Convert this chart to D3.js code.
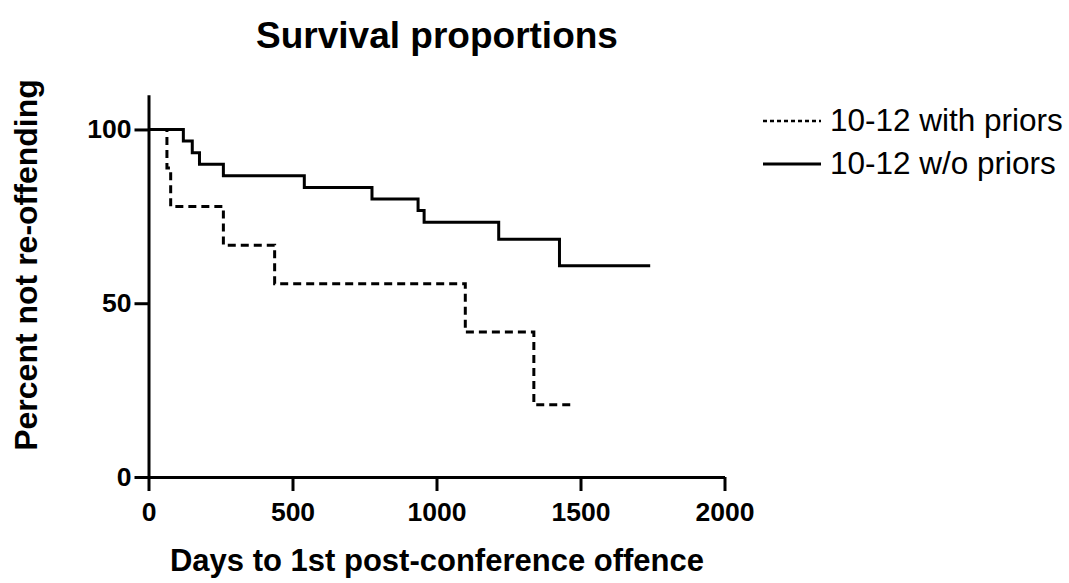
<!DOCTYPE html>
<html>
<head>
<meta charset="utf-8">
<script src="https://cdn.jsdelivr.net/npm/d3@7"></script>
<style>
  body { margin: 0; background: #fff; }
  text { font-family: "Liberation Sans", Arial, sans-serif; fill: #000; }
</style>
</head>
<body>
<div id="chart"></div>
<script>
// Kaplan-Meier steps
const priorsDays = [0, 64, 77, 260, 438, 1100, 1338, 1467]
const priorsSurv = [100, 88.9, 77.8, 66.7, 55.6, 41.7, 20.8, 20.8]

const noPriorsDays = [0, 121, 152, 177, 260, 541, 776, 936, 957, 1216, 1427, 1742]
const noPriorsSurv = [100, 96.7, 93.3, 90, 86.7, 83.3, 80, 76.7, 73.3, 68.4, 60.8, 60.8]

const xTicks = [0, 500, 1000, 1500, 2000]
const yTicks = [0, 50, 100]

const seriesNames = ["10-12 with priors", "10-12 w/o priors"]

const series = [
  { name: seriesNames[0], dash: "8,5", pts: priorsDays.map((d, i) => [d, priorsSurv[i]]) },
  { name: seriesNames[1], dash: null, pts: noPriorsDays.map((d, i) => [d, noPriorsSurv[i]]) }
]

const svg = d3.select('#chart')
  .append('svg')
  .attr('width', 1069)
  .attr('height', 583)

const x = d3.scaleLinear().domain([0, 2000]).range([148.5, 724.5])
const y = d3.scaleLinear().domain([0, 110]).range([477, 94.7])

// axes
const xAxis = svg.append('g')
  .attr('transform', `translate(0,${y(0)})`)
  .call(d3.axisBottom(x).tickValues(xTicks).tickFormat(d3.format('d'))
    .tickSize(14).tickPadding(11).tickSizeOuter(0))
const yAxis = svg.append('g')
  .attr('transform', `translate(${x(0)},0)`)
  .call(d3.axisLeft(y).tickValues(yTicks).tickFormat(d3.format('d'))
    .tickSize(14).tickPadding(3).tickSizeOuter(0))

for (const ax of [xAxis, yAxis]) {
  ax.select('.domain').attr('stroke', '#000').attr('stroke-width', 3)
  ax.selectAll('.tick line').attr('stroke', '#000').attr('stroke-width', 3)
  ax.selectAll('.tick text')
    .style('font-family', '"Liberation Sans", Arial, sans-serif')
    .style('font-size', '26.5px')
    .style('font-weight', 'bold')
    .attr('fill', '#000')
}

// survival curves
const line = d3.line()
  .x(d => x(d[0]))
  .y(d => y(d[1]))
  .curve(d3.curveStepAfter)

svg.selectAll('path.curve')
  .data(series)
  .join('path')
  .attr('class', 'curve')
  .attr('fill', 'none')
  .attr('stroke', '#000')
  .attr('stroke-width', 3)
  .attr('stroke-dasharray', d => d.dash)
  .attr('d', d => line(d.pts))

// titles
svg.append('text')
  .attr('x', 437).attr('y', 48)
  .attr('text-anchor', 'middle')
  .style('font-size', '37px').style('font-weight', 'bold')
  .text('Survival proportions')

svg.append('text')
  .attr('x', 437).attr('y', 571)
  .attr('text-anchor', 'middle')
  .style('font-size', '31px').style('font-weight', 'bold')
  .text('Days to 1st post-conference offence')

svg.append('text')
  .attr('transform', 'translate(37,265) rotate(-90)')
  .attr('text-anchor', 'middle')
  .style('font-size', '32px').style('font-weight', 'bold')
  .text('Percent not re-offending')

// legend
const legend = svg.selectAll('g.legend')
  .data(series)
  .join('g')
  .attr('class', 'legend')
  .attr('transform', (d, i) => `translate(763,${121 + i * 43})`)

legend.append('line')
  .attr('x1', 0).attr('x2', 58)
  .attr('stroke', '#000')
  .attr('stroke-width', d => d.dash ? 2.5 : 3)
  .attr('stroke-dasharray', d => d.dash ? "4,3" : null)

legend.append('text')
  .attr('x', 67).attr('y', 10)
  .style('font-size', '31.5px')
  .text(d => d.name)
</script>
</body>
</html>
